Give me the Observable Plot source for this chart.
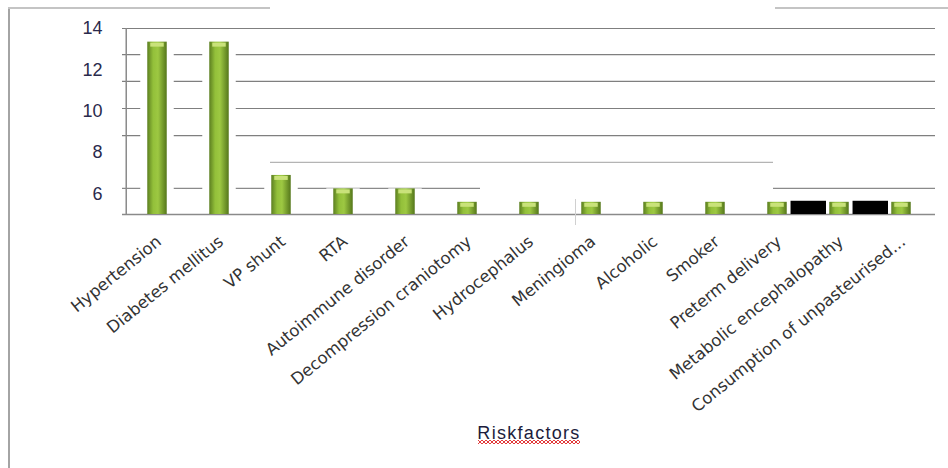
<!DOCTYPE html>
<html>
<head>
<meta charset="utf-8">
<script src="https://cdn.jsdelivr.net/npm/d3@7"></script>
<script src="https://cdn.jsdelivr.net/npm/@observablehq/plot@0.6"></script>
<style>
  html, body { margin: 0; padding: 0; background: #fff; }
  #wrap { position: relative; width: 948px; height: 468px; overflow: hidden; }
  .deco { position: absolute; pointer-events: none; }
  .squiggle {
    background-image:
      linear-gradient(135deg, transparent 40%, #e23b3b 40%, #e23b3b 60%, transparent 60%),
      linear-gradient(45deg, transparent 40%, #e23b3b 40%, #e23b3b 60%, transparent 60%);
    background-size: 4px 4px;
    background-repeat: repeat-x;
  }
</style>
</head>
<body>
<div id="wrap">
  <div id="chart"></div>
  <div class="deco" style="left:8px;top:8px;width:0;height:460px;border-left:2px solid #a4a4a4;"></div>
  <div class="deco" style="left:8px;top:7px;width:262px;height:0;border-top:2px solid #c4c4c4;"></div>
  <div class="deco" style="left:775px;top:7px;width:173px;height:0;border-top:2px solid #c4c4c4;"></div>
  <div class="deco" style="left:575px;top:199px;width:0;height:26px;border-left:1px solid #d0d0d0;"></div>
  <div class="deco squiggle" style="left:478px;top:440px;width:102px;height:4px;"></div>
</div>
<script>
// ---- data ----
const riskFactors = [
  "Hypertension", "Diabetes mellitus", "VP shunt", "RTA", "Autoimmune disorder",
  "Decompression craniotomy", "Hydrocephalus", "Meningioma", "Alcoholic", "Smoker",
  "Preterm delivery", "Metabolic encephalopathy", "Consumption of unpasteurised..."
];
const counts = [13.34, 13.34, 6.89, 6.24, 6.24, 5.59, 5.59, 5.59, 5.59, 5.59, 5.59, 5.59, 5.59];
const yTicks = [6, 8, 10, 12, 14];
const gridFull = [14, 12.74, 11.44, 10.13, 8.82];
const gridMid = [7.52];
const gridSplit = [6.26];
const overlapCats = ["Preterm delivery", "Metabolic encephalopathy"];
const overlapValues = [5.64, 5.64];
const axisTitle = "Riskfactors";

// ---- layout ----
const W = 948, H = 468, ML = 122, MR = 13, MT = 28, MB = 254;
const step = (W - ML - MR) / riskFactors.length;
const barW = 20;
const inset = (step - barW) / 2;

const table = riskFactors.map((name, i) => ({name, value: counts[i]}));
const overlap = overlapCats.map((name, i) => ({name, value: overlapValues[i]}));

const defs = () => {
  const ns = "http://www.w3.org/2000/svg";
  const d = document.createElementNS(ns, "defs");
  const g = document.createElementNS(ns, "linearGradient");
  g.setAttribute("id", "barGrad");
  g.setAttribute("x1", "0"); g.setAttribute("x2", "1");
  g.setAttribute("y1", "0"); g.setAttribute("y2", "0");
  [["0%", "#5c7f20"], ["30%", "#93c03a"], ["55%", "#9dc842"], ["100%", "#55771b"]].forEach(([o, c]) => {
    const s = document.createElementNS(ns, "stop");
    s.setAttribute("offset", o); s.setAttribute("stop-color", c);
    g.appendChild(s);
  });
  d.appendChild(g);
  return d;
};

const chart = Plot.plot({
  width: W, height: H,
  marginLeft: ML, marginRight: MR, marginTop: MT, marginBottom: MB,
  style: {background: "#fff", overflow: "visible"},
  x: {domain: riskFactors, padding: 0, axis: null},
  y: {domain: [5, 14], axis: null},
  marks: [
    defs,
    Plot.ruleY(gridFull, {stroke: "#7f7f7f", strokeWidth: 1.2}),
    Plot.ruleY(gridMid, {stroke: "#b4b4b4", strokeWidth: 1.2, insetLeft: 148, insetRight: 162}),
    Plot.ruleY(gridSplit, {stroke: "#8a8a8a", strokeWidth: 1.2, insetRight: 455}),
    Plot.ruleY(gridSplit, {stroke: "#8a8a8a", strokeWidth: 1.2, insetLeft: 651}),
    // white gaps around bars
    Plot.barY(table, {x: "name", y1: 5, y2: "value", fill: "#fff", insetLeft: inset - 7, insetRight: inset - 7}),
    Plot.ruleY([5], {stroke: "#8a8a8a", strokeWidth: 1.5}),
    Plot.ruleX([riskFactors[0]], {y1: 5, y2: 14, dx: -step / 2, stroke: "#8a8a8a", strokeWidth: 1.5}),
    Plot.barY(overlap, {x: "name", y1: 5, y2: "value", fill: "#000", dx: step / 2, insetLeft: inset - 8, insetRight: inset - 8}),
    Plot.barY(table, {x: "name", y1: 5, y2: "value", fill: "url(#barGrad)", insetLeft: inset, insetRight: inset}),
    Plot.tickY(table, {x: "name", y: "value", dy: 2.5, stroke: "#c9e27a", strokeWidth: 4, insetLeft: inset + 3, insetRight: inset + 3}),
    Plot.axisY(yTicks, {label: null, tickSize: 0, tickPadding: 20, fontSize: 18, fontFamily: "Liberation Sans",
      fill: "#2a2a4c", stroke: "#2a2a4c", strokeWidth: 0.6}),
    Plot.text(riskFactors, {x: d => d, frameAnchor: "bottom", rotate: -39, textAnchor: "end", lineAnchor: "bottom",
      dx: 5, dy: 29, fontSize: 16.5, fontFamily: "DejaVu Sans", fill: "#333"}),
    Plot.text([axisTitle], {frameAnchor: "bottom", dy: 224, lineAnchor: "bottom", fontSize: 18,
      fontFamily: "Liberation Sans", fill: "#1c1c3c"})
  ]
});
document.getElementById("chart").appendChild(chart);
chart.querySelectorAll("text").forEach(t => {
  if (t.textContent === axisTitle) t.style.letterSpacing = "1.3px";
});
</script>
</body>
</html>
